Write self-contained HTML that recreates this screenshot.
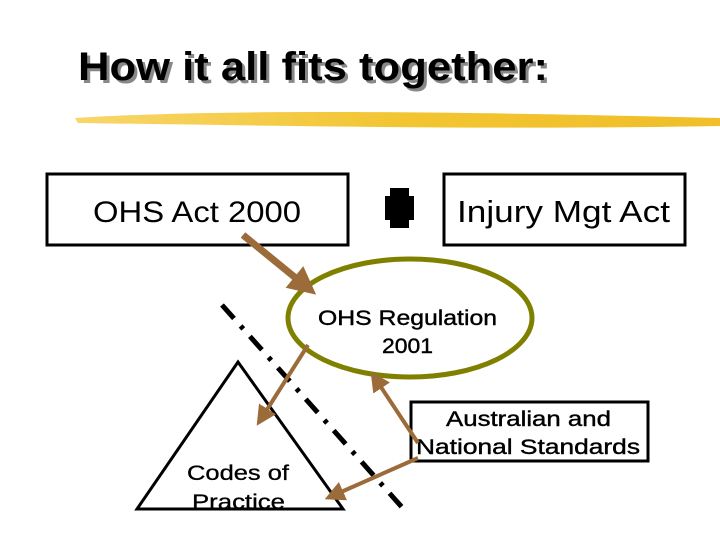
<!DOCTYPE html>
<html><head><meta charset="utf-8"><style>
body{margin:0;width:720px;height:540px;background:#fff;overflow:hidden;font-family:"Liberation Sans",Arial,sans-serif}
</style></head><body>
<svg width="720" height="540" viewBox="0 0 720 540" xmlns="http://www.w3.org/2000/svg" font-family="Liberation Sans, Arial, sans-serif">
<defs>
<linearGradient id="y" x1="0" x2="1"><stop offset="0" stop-color="#f8d66a"/><stop offset="0.5" stop-color="#f2c531"/><stop offset="1" stop-color="#f0bf2a"/></linearGradient>
<marker id="ah" markerWidth="4" markerHeight="4" refX="2.5" refY="2" orient="auto" markerUnits="strokeWidth"><path d="M0,0 L4,2 L0,4 z" fill="#9c6b3a"/></marker>
<marker id="ah2" markerWidth="5" markerHeight="5" refX="3" refY="2.5" orient="auto" markerUnits="strokeWidth"><path d="M0,0 L5,2.5 L0,5 z" fill="#9c6b3a"/></marker>
</defs>
<text x="81" y="83" font-size="40" font-weight="bold" fill="#888" textLength="470" lengthAdjust="spacingAndGlyphs">How it all fits together:</text>
<text x="78" y="80" font-size="40" font-weight="bold" fill="#000" textLength="470" lengthAdjust="spacingAndGlyphs">How it all fits together:</text>
<path d="M75,118 C200,110 400,110 720,118 L720,126 C500,130 300,126 78,123 z" fill="url(#y)"/>
<rect x="47" y="174" width="301" height="71" fill="#fff" stroke="#000" stroke-width="3"/>
<text x="93" y="222" font-size="30" textLength="208" lengthAdjust="spacingAndGlyphs">OHS Act 2000</text>
<rect x="444" y="174" width="241" height="71" fill="#fff" stroke="#000" stroke-width="3"/>
<text x="457" y="222" font-size="31" textLength="213" lengthAdjust="spacingAndGlyphs">Injury Mgt Act</text>
<path d="M390,188 h19 v8 h5 v24 h-5 v8 h-19 v-8 h-5 v-24 h5 z" fill="#000"/>
<ellipse cx="410" cy="318" rx="122" ry="59" fill="none" stroke="#808000" stroke-width="5"/>
<text x="318" y="325" font-size="21" stroke="#000" stroke-width="0.4" textLength="179" lengthAdjust="spacingAndGlyphs">OHS Regulation</text>
<text x="382" y="353" font-size="21" stroke="#000" stroke-width="0.4" textLength="51" lengthAdjust="spacingAndGlyphs">2001</text>
<path d="M238,362 L137,509 L343,509 z" fill="#fff" stroke="#000" stroke-width="3"/>
<text x="187" y="480" font-size="21" stroke="#000" stroke-width="0.3" textLength="102" lengthAdjust="spacingAndGlyphs">Codes of</text>
<text x="192" y="509" font-size="21" stroke="#000" stroke-width="0.3" textLength="93" lengthAdjust="spacingAndGlyphs">Practice</text>
<line x1="222" y1="305" x2="408" y2="514" stroke="#000" stroke-width="5" stroke-dasharray="18,10,4,10"/>
<rect x="411" y="402" width="237" height="59" fill="#fff" stroke="#000" stroke-width="3"/>
<text x="446" y="426" font-size="21" stroke="#000" stroke-width="0.4" textLength="165" lengthAdjust="spacingAndGlyphs">Australian and</text>
<text x="416" y="454" font-size="21" stroke="#000" stroke-width="0.4" textLength="224" lengthAdjust="spacingAndGlyphs">National  Standards</text>
<line x1="243" y1="235" x2="308" y2="288" stroke="#9c6b3a" stroke-width="7" marker-end="url(#ah)"/>
<line x1="308" y1="345" x2="261" y2="419" stroke="#9c6b3a" stroke-width="4" marker-end="url(#ah2)"/>
<line x1="418" y1="443" x2="375" y2="378" stroke="#9c6b3a" stroke-width="4" marker-end="url(#ah2)"/>
<line x1="418" y1="458" x2="332" y2="496" stroke="#9c6b3a" stroke-width="4" marker-end="url(#ah2)"/>
</svg>
</body></html>
